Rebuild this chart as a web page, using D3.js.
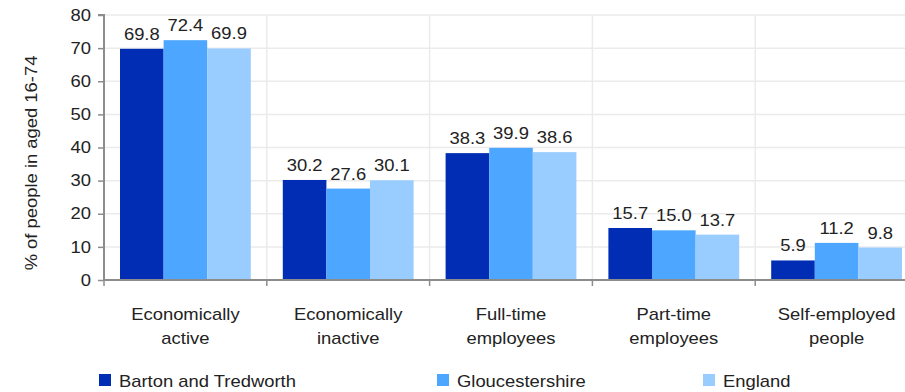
<!DOCTYPE html>
<html><head><meta charset="utf-8">
<script src="https://cdn.jsdelivr.net/npm/d3@7"></script>
<style>body{margin:0;background:#fff}svg{display:block;font-family:"Liberation Sans",Arial,sans-serif}</style>
</head><body><svg id="c" width="905" height="392"></svg>
<script>
const categories = [["Economically","active"],["Economically","inactive"],["Full-time","employees"],["Part-time","employees"],["Self-employed","people"]];
const seriesNames = ["Barton and Tredworth","Gloucestershire","England"];
const barton = [69.8,30.2,38.3,15.7,5.9];
const glos = [72.4,27.6,39.9,15.0,11.2];
const england = [69.9,30.1,38.6,13.7,9.8];
const yTicks = [0,10,20,30,40,50,60,70,80];
const colors = ["#002db3","#4da6ff","#99ccff"];
const series = [barton, glos, england];
const FS = 16, SX = 1.15, FF = "Liberation Sans, Arial, sans-serif", TC = "#222";

const svg = d3.select("#c");
const x0 = 104, bandW = 162.8;
const x = d3.scaleBand().domain(d3.range(5)).range([x0, x0 + 5*bandW]).paddingInner(0).paddingOuter(0);
const xs = d3.scaleBand().domain(d3.range(3)).range([16, bandW-16]);
const y = d3.scaleLinear().domain([0,80]).range([280,15]);

function label(parent, px, py, str, anchor, rot) {
  return parent.append("text")
    .attr("transform", `translate(${px},${py})` + (rot ? ` rotate(${rot})` : "") + ` scale(${SX},1)`)
    .attr("text-anchor", anchor || "start").attr("font-size", FS).attr("fill", TC).text(str);
}

// gridlines
const g = svg.append("g");
yTicks.forEach(t => { if (t>0) g.append("line").attr("x1",x0).attr("x2",905).attr("y1",y(t)).attr("y2",y(t)).attr("stroke","#ebebeb").attr("stroke-width",1.5); });
d3.range(1,6).forEach(i => g.append("line").attr("x1",x0+i*bandW).attr("x2",x0+i*bandW).attr("y1",y(80)).attr("y2",y(0)).attr("stroke","#ebebeb").attr("stroke-width",1.5));

// bars
series.forEach((s,si) => {
  svg.append("g").selectAll("rect").data(s).join("rect")
    .attr("x",(d,i)=>x(i)+xs(si)).attr("width",xs.bandwidth())
    .attr("y",d=>y(d)).attr("height",d=>y(0)-y(d)).attr("fill",colors[si]);
  const lg = svg.append("g");
  s.forEach((d,i) => label(lg, x(i)+xs(si)+xs.bandwidth()/2, y(d)-9, d.toFixed(1), "middle"));
});

// axes
const yAxis = d3.axisLeft(y).tickValues(yTicks).tickSize(6).tickPadding(7);
const ya = svg.append("g").attr("transform",`translate(${x0},0)`).call(yAxis);
ya.attr("font-family",FF).attr("font-size",FS);
ya.select(".domain").attr("stroke","#8c8c8c").attr("stroke-width",2).attr("d",`M-6,${y(80)}H0V${y(0)}`);
ya.selectAll(".tick line").attr("stroke","#8c8c8c").attr("stroke-width",1.5);
ya.selectAll(".tick text").attr("fill",TC).attr("x",-13/SX).attr("transform",`scale(${SX},1)`);

svg.append("line").attr("x1",x0).attr("x2",905).attr("y1",y(0)).attr("y2",y(0)).attr("stroke","#8c8c8c").attr("stroke-width",2);
d3.range(0,6).forEach(i => svg.append("line").attr("x1",x0+i*bandW).attr("x2",x0+i*bandW).attr("y1",y(0)).attr("y2",y(0)+6).attr("stroke","#8c8c8c").attr("stroke-width",1.5));

// category labels
categories.forEach((c,i) => {
  c.forEach((line,li) => label(svg, x(i)+bandW/2, 320+li*24, line, "middle"));
});

// y title
label(svg, 37, 163, "% of people in aged 16-74", "middle", -90);

// legend
const legX = [99, 437, 703];
seriesNames.forEach((n,i) => {
  svg.append("rect").attr("x",legX[i]).attr("y",374).attr("width",12).attr("height",12).attr("fill",colors[i]);
  label(svg, legX[i]+20, 387, n, "start");
});
</script></body></html>
